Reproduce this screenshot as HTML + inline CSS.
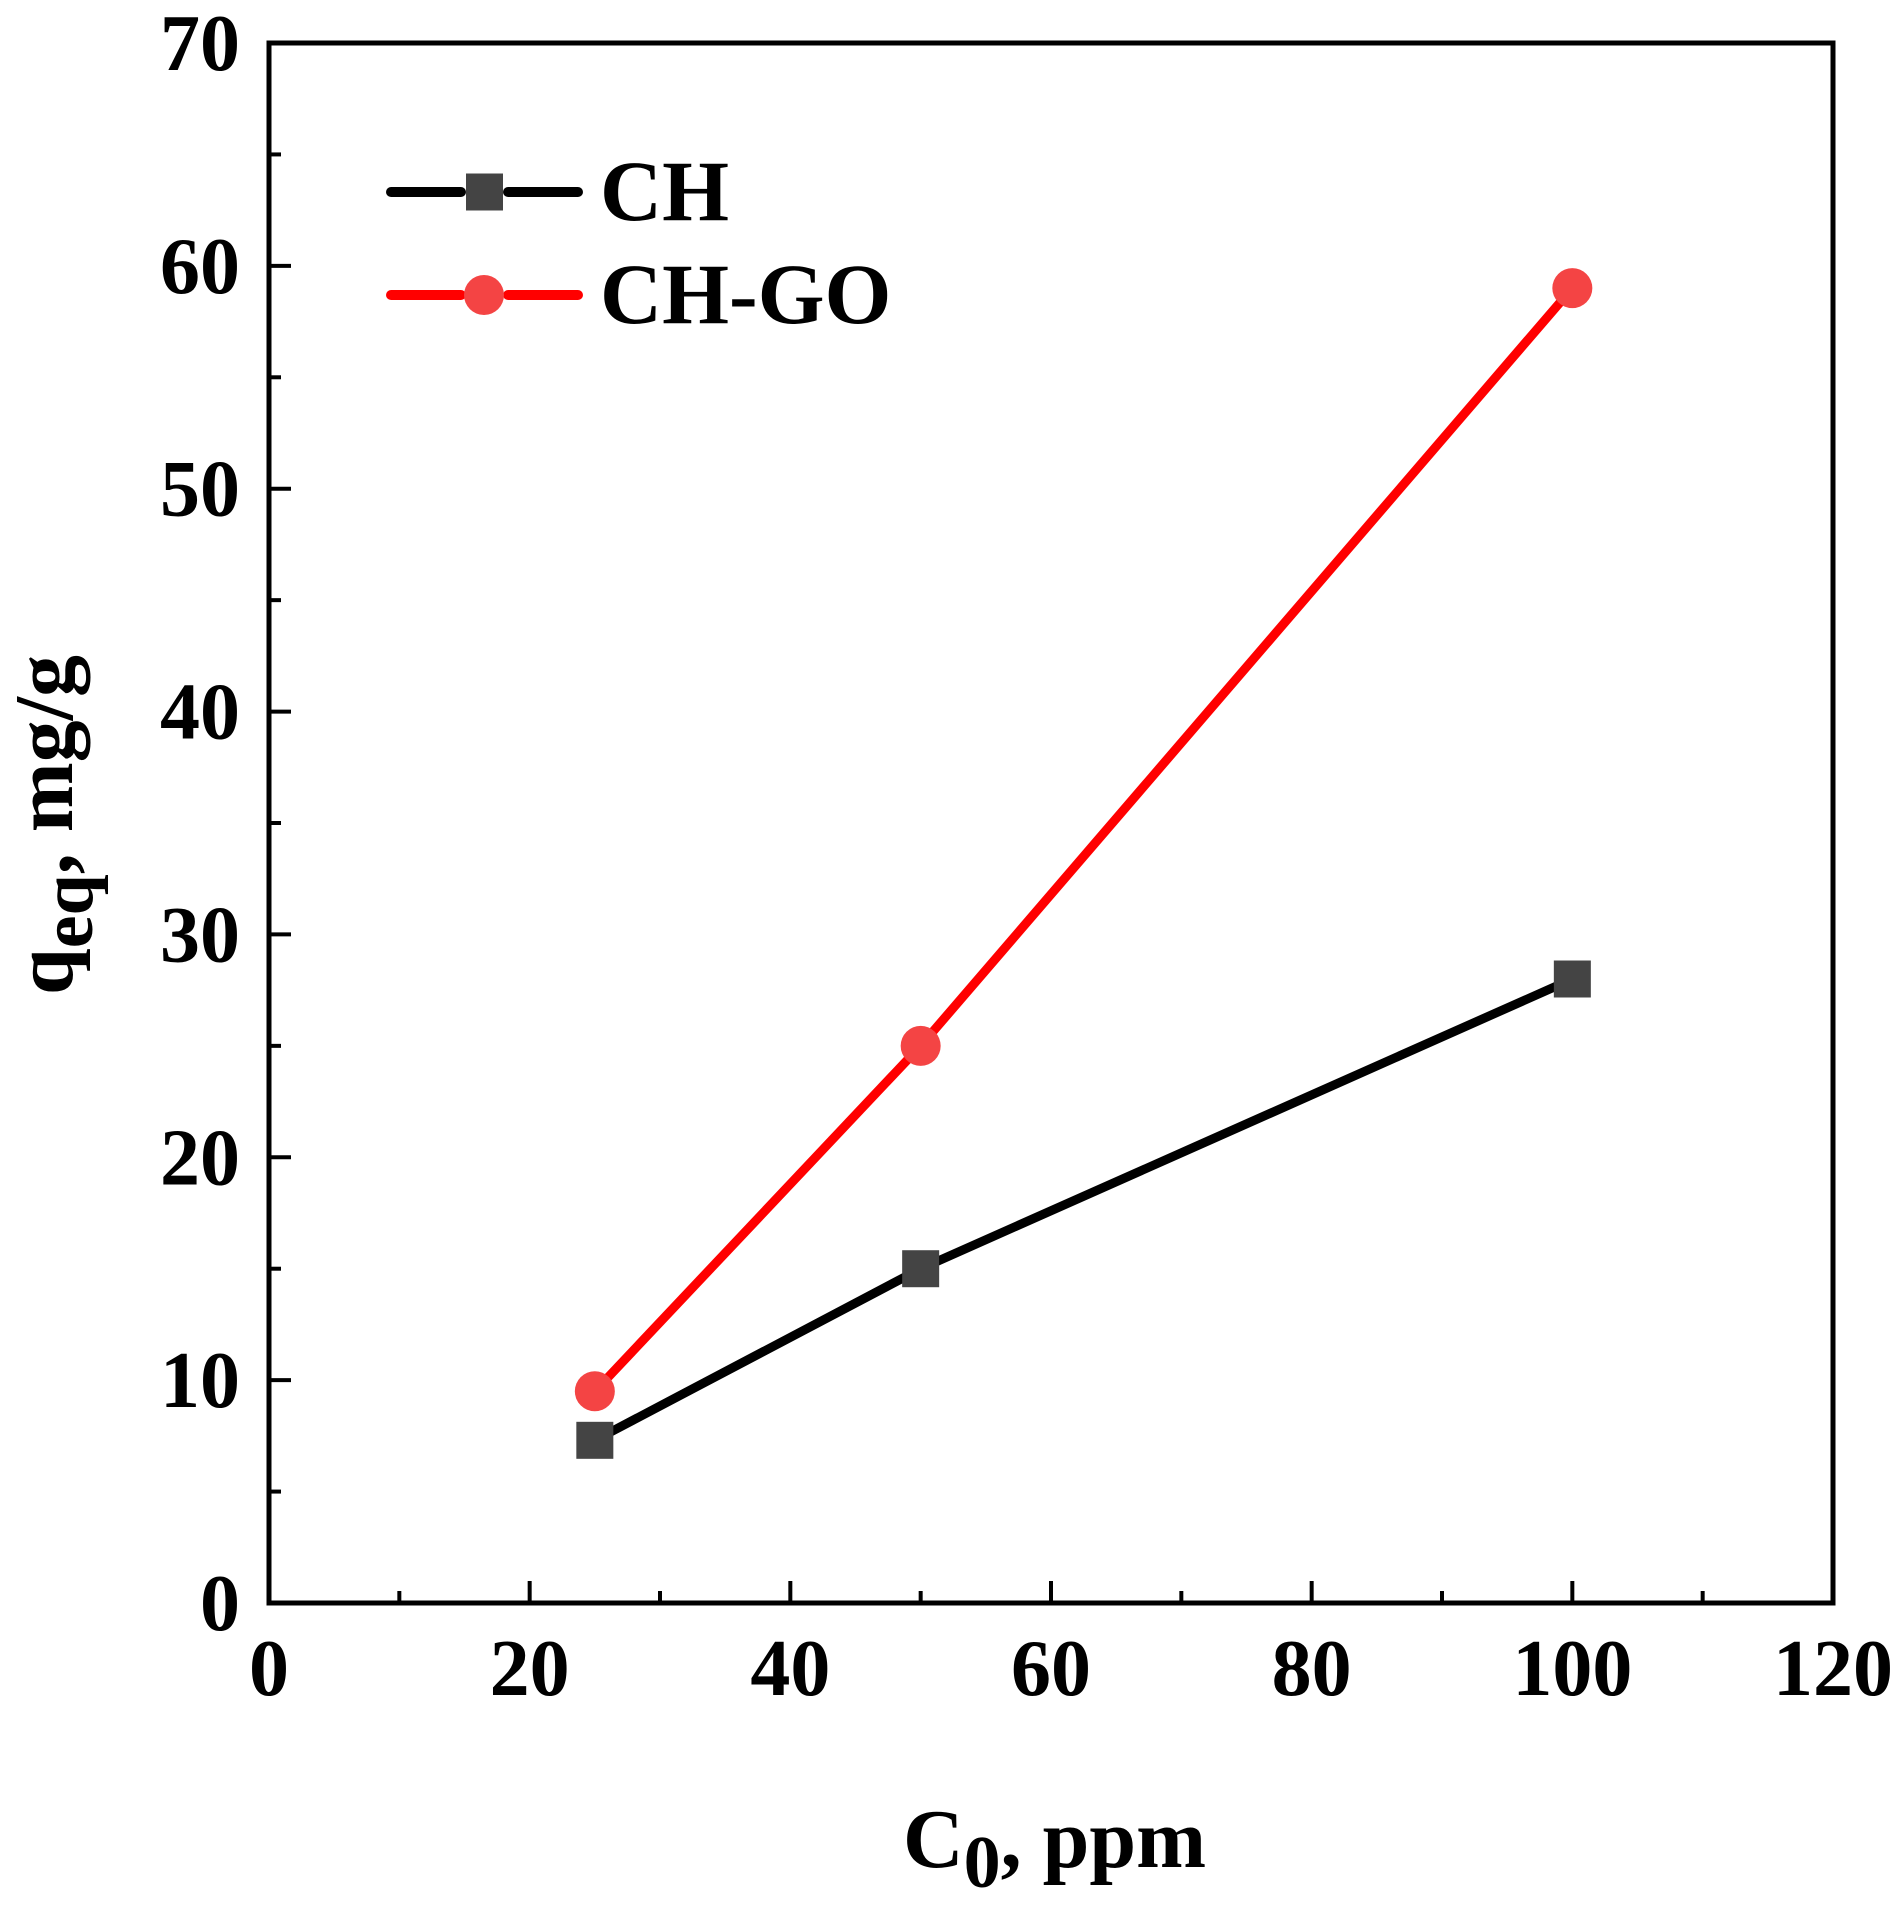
<!DOCTYPE html>
<html><head><meta charset="utf-8"><style>
html,body{margin:0;padding:0;background:#fff}
svg{display:block}
text{font-family:"Liberation Serif","Times New Roman",serif;font-weight:bold;fill:#000}
</style></head><body>
<svg id="chart" width="1903" height="1928" viewBox="0 0 1903 1928" xmlns="http://www.w3.org/2000/svg" style="position:absolute;left:0;top:0">
<text x="903" y="1867" font-size="84">C<tspan font-size="74" dy="20">0</tspan><tspan dy="-20">, ppm</tspan></text>
<text transform="translate(72,825) rotate(-90)" text-anchor="middle" font-size="84">q<tspan font-size="74" dy="20">eq</tspan><tspan dy="-20">, mg/g</tspan></text>
</svg>
<script>
const xValues = [25, 50, 100];
const chValues = [7.3, 15, 28];
const chgoValues = [9.5, 25, 59];
const xTicks = [0, 20, 40, 60, 80, 100, 120];
const yTicks = [0, 10, 20, 30, 40, 50, 60, 70];

const NS = 'http://www.w3.org/2000/svg';
const svg = document.getElementById('chart');
const L = 269, R = 1833, T = 43, B = 1603;
const X = v => L + (v - 0) / 120 * (R - L);
const Y = v => B - (v - 0) / 70 * (B - T);
function mk(tag, attrs, parent) {
  const e = document.createElementNS(NS, tag);
  for (const k in attrs) e.setAttribute(k, attrs[k]);
  (parent || svg).appendChild(e);
  return e;
}

for (let v = 0; v <= 120; v += 10) {
  const major = v % 20 === 0;
  const t = mk('line', {x1: X(v), x2: X(v), y1: B, y2: B - (major ? 22 : 12), stroke: '#000', 'stroke-width': 4});
  
  
}
for (let v = 0; v <= 70; v += 5) {
  const major = v % 10 === 0;
  const t = mk('line', {x1: L, x2: L + (major ? 22 : 12), y1: Y(v), y2: Y(v), stroke: '#000', 'stroke-width': 4});
  
  
}
xTicks.forEach(v => {
  const t = mk('text', {x: X(v), y: 1695, 'text-anchor': 'middle', 'font-size': 80});
  t.textContent = v;
  
  
});
yTicks.forEach(v => {
  const t = mk('text', {x: 240, y: Y(v) + 27, 'text-anchor': 'end', 'font-size': 80});
  t.textContent = v;
  
  
});

const fr = mk('rect', {x: L, y: T, width: R - L, height: B - T, fill: 'none', stroke: '#000', 'stroke-width': 5});



function series(vals, color, mcolor, shape, name) {
  const pts = xValues.map((x, i) => X(x) + ',' + Y(vals[i])).join(' ');
  const pl = mk('polyline', {points: pts, fill: 'none', stroke: color, 'stroke-width': 9, 'stroke-linejoin': 'round'});
  
  
  xValues.forEach((x, i) => {
    let m;
    if (shape === 'square') m = mk('rect', {x: X(x) - 18.5, y: Y(vals[i]) - 18.5, width: 37, height: 37, fill: mcolor});
    else m = mk('circle', {cx: X(x), cy: Y(vals[i]), r: 20, fill: mcolor});
    
    
  });
}
series(chValues, '#000', '#444', 'square', 'ch');
series(chgoValues, '#ff0000', '#f44444', 'circle', 'chgo');

function legend(y, color, mcolor, shape, label, name) {
  const g = mk('g', {});
  
  
  mk('line', {x1: 391, x2: 461, y1: y, y2: y, stroke: color, 'stroke-width': 10, 'stroke-linecap': 'round'}, g);
  mk('line', {x1: 508, x2: 578, y1: y, y2: y, stroke: color, 'stroke-width': 10, 'stroke-linecap': 'round'}, g);
  if (shape === 'square') mk('rect', {x: 466, y: y - 18.5, width: 37, height: 37, fill: mcolor}, g);
  else mk('circle', {cx: 484, cy: y, r: 20, fill: mcolor}, g);
  const t = mk('text', {x: 600, y: y + 28, 'font-size': 86}, g);
  t.textContent = label;
}
legend(192, '#000', '#444', 'square', 'CH', 'legend-entry-ch');
legend(295, '#ff0000', '#f44444', 'circle', 'CH-GO', 'legend-entry-chgo');
</script>
</body></html>
